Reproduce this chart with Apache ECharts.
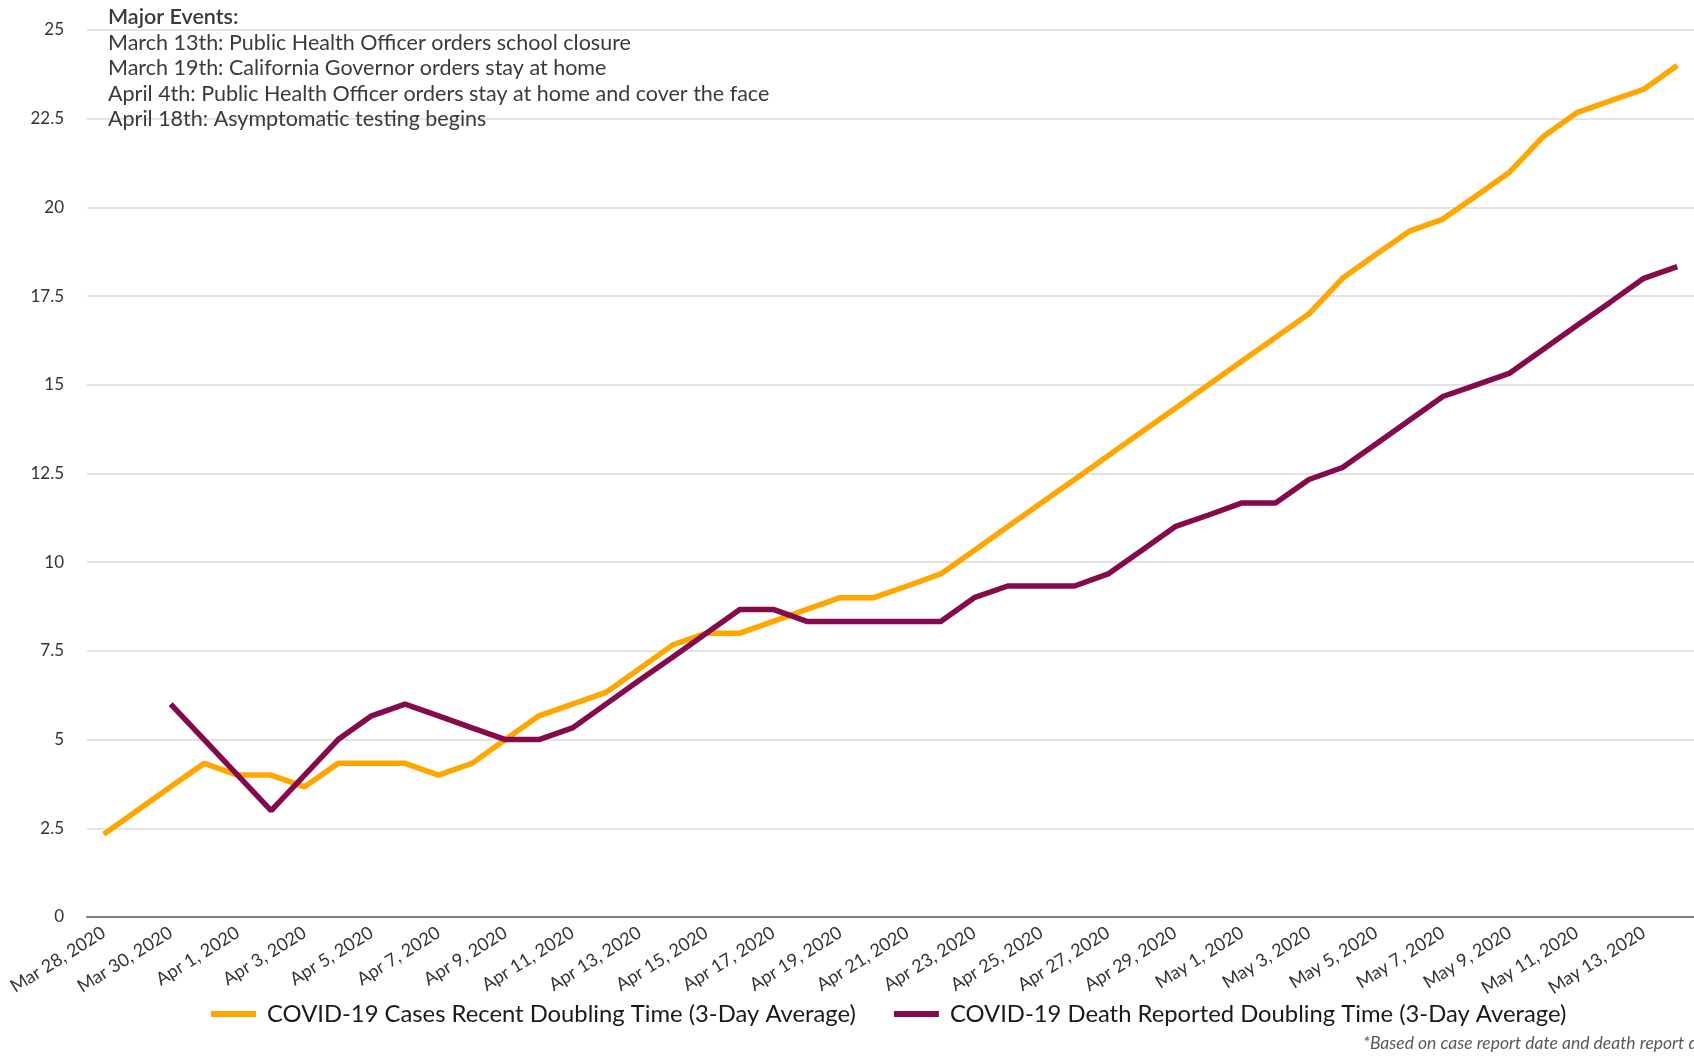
<!DOCTYPE html>
<html>
<head>
<meta charset="utf-8">
<script src="https://cdn.jsdelivr.net/npm/echarts@6/dist/echarts.min.js"></script>
<style>
  html, body { margin: 0; padding: 0; background: #fff; }
  #chart { width: 1694px; height: 1057px; }
</style>
</head>
<body>
<div id="chart"></div>
<script>
// categories: one per day
var dates = [
  'Mar 28, 2020', 'Mar 29, 2020', 'Mar 30, 2020', 'Mar 31, 2020',
  'Apr 1, 2020', 'Apr 2, 2020', 'Apr 3, 2020', 'Apr 4, 2020', 'Apr 5, 2020',
  'Apr 6, 2020', 'Apr 7, 2020', 'Apr 8, 2020', 'Apr 9, 2020', 'Apr 10, 2020',
  'Apr 11, 2020', 'Apr 12, 2020', 'Apr 13, 2020', 'Apr 14, 2020', 'Apr 15, 2020',
  'Apr 16, 2020', 'Apr 17, 2020', 'Apr 18, 2020', 'Apr 19, 2020', 'Apr 20, 2020',
  'Apr 21, 2020', 'Apr 22, 2020', 'Apr 23, 2020', 'Apr 24, 2020', 'Apr 25, 2020',
  'Apr 26, 2020', 'Apr 27, 2020', 'Apr 28, 2020', 'Apr 29, 2020', 'Apr 30, 2020',
  'May 1, 2020', 'May 2, 2020', 'May 3, 2020', 'May 4, 2020', 'May 5, 2020',
  'May 6, 2020', 'May 7, 2020', 'May 8, 2020', 'May 9, 2020', 'May 10, 2020',
  'May 11, 2020', 'May 12, 2020', 'May 13, 2020', 'May 14, 2020'
];

// cases doubling time (3-day avg)
var casesDoubling = [
  2.33, 3.0, 3.67, 4.33,
  4.0, 4.0, 3.67, 4.33, 4.33, 4.33, 4.0, 4.33, 5.0, 5.67,
  6.0, 6.33, 7.0, 7.67, 8.0, 8.0, 8.33, 8.67, 9.0, 9.0,
  9.33, 9.67, 10.33, 11.0, 11.67, 12.33, 13.0, 13.67, 14.33, 15.0,
  15.67, 16.33, 17.0, 18.0, 18.67, 19.33, 19.67, 20.33, 21.0, 22.0,
  22.67, 23.0, 23.33, 24.0
];

// death doubling time (3-day avg), starts Mar 30
var deathDoubling = [
  null, null, 6.0, 5.0,
  4.0, 3.0, 4.0, 5.0, 5.67, 6.0, 5.67, 5.33, 5.0, 5.0,
  5.33, 6.0, 6.67, 7.33, 8.0, 8.67, 8.67, 8.33, 8.33, 8.33,
  8.33, 8.33, 9.0, 9.33, 9.33, 9.33, 9.67, 10.33, 11.0, 11.33,
  11.67, 11.67, 12.33, 12.67, 13.33, 14.0, 14.67, 15.0, 15.33, 16.0,
  16.67, 17.33, 18.0, 18.33
];

var seriesNames = [
  'COVID-19 Cases Recent Doubling Time (3-Day Average)',
  'COVID-19 Death Reported Doubling Time (3-Day Average)'
];

var eventLines = [
  'Major Events:',
  'March 13th: Public Health Officer orders school closure',
  'March 19th: California Governor orders stay at home',
  'April 4th: Public Health Officer orders stay at home and cover the face',
  'April 18th: Asymptomatic testing begins'
];

var footnote = '*Based on case report date and death report date';

var font = 'Lato, "Open Sans", sans-serif';

var myChart = echarts.init(document.getElementById('chart'));

var graphics = eventLines.map(function (t, i) {
  return {
    type: 'text',
    left: 108,
    top: 6 + i * 25.6,
    z: 10,
    style: {
      text: t,
      fill: '#3a3a3a',
      font: (i === 0 ? '600 ' : '') + '21.5px ' + font
    }
  };
});
graphics.push({
  type: 'text',
  left: 1363,
  top: 1034,
  style: {
    text: footnote,
    fill: '#595959',
    font: 'italic 17.5px ' + font
  }
});

myChart.setOption({
  backgroundColor: '#fff',
  animation: false,
  grid: {
    left: 87,
    top: 30,
    width: 1608,
    bottom: 140
  },
  legend: {
    left: 206,
    top: 997,
    icon: 'rect',
    itemWidth: 45,
    itemHeight: 6,
    itemGap: 38,
    textStyle: {
      fontFamily: font,
      fontSize: 23.8,
      color: '#1a1a1a',
      padding: [0, 0, 0, 6]
    },
    data: seriesNames
  },
  xAxis: {
    type: 'category',
    data: dates,
    boundaryGap: true,
    axisTick: { show: false },
    axisLine: { lineStyle: { color: '#7f7f7f', width: 2 } },
    axisLabel: {
      interval: 1,
      rotate: 32,
      margin: 14,
      fontFamily: font,
      fontSize: 18,
      color: '#333'
    },
    splitLine: { show: false }
  },
  yAxis: {
    type: 'value',
    min: 0,
    max: 25,
    interval: 2.5,
    axisLine: { show: false },
    axisTick: { show: false },
    axisLabel: {
      margin: 23,
      fontFamily: font,
      fontSize: 17,
      color: '#333'
    },
    splitLine: { lineStyle: { color: '#e3e3e3', width: 2 } }
  },
  series: [{
    name: seriesNames[0],
    type: 'line',
    data: casesDoubling,
    showSymbol: false,
    color: '#FFA600',
    lineStyle: { width: 5.5, color: '#FFA600' }
  }, {
    name: seriesNames[1],
    type: 'line',
    data: deathDoubling,
    showSymbol: false,
    color: '#850A4B',
    lineStyle: { width: 5.5, color: '#850A4B' }
  }],
  graphic: graphics
});
</script>
</body>
</html>
